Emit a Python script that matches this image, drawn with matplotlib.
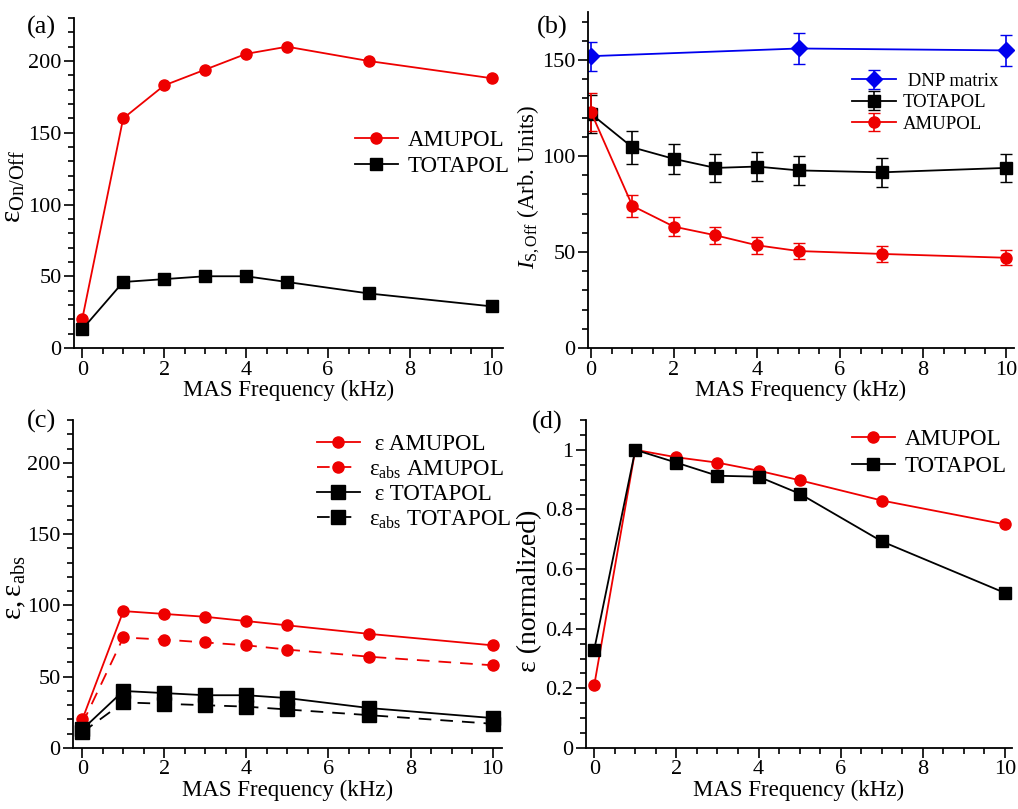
import numpy as np
import matplotlib
matplotlib.use("Agg")
import matplotlib.pyplot as plt
from matplotlib.ticker import MultipleLocator

plt.rcParams["font.family"] = ["Liberation Serif", "DejaVu Serif"]
plt.rcParams["mathtext.fontset"] = "custom"
plt.rcParams["mathtext.rm"] = "Liberation Serif"
plt.rcParams["mathtext.it"] = "Liberation Serif:italic"
plt.rcParams["font.size"] = 15

# (a) enhancement vs MAS frequency
freq = [0, 1, 2, 3, 4, 5, 7, 10]
eps_amupol = [20, 160, 183, 194, 205, 210, 200, 188]
eps_totapol = [13, 46, 48, 50, 50, 46, 38, 29]

# (b) signal intensity with microwaves off
freq_matrix = [0, 5, 10]
i_matrix = [152, 156, 155]
i_matrix_err = [7.6, 8, 8]
i_totapol = [122, 104.5, 98.5, 93.8, 94.5, 92.5, 91.5, 93.8]
i_totapol_err = [10, 8.5, 8, 7.5, 7.5, 7.5, 7.5, 7.5]
i_amupol = [123, 74, 63.2, 58.7, 53.5, 50.5, 49, 47]
i_amupol_err = [10, 5.8, 5, 4.5, 4.5, 4, 4, 4]

# (c) epsilon and absolute epsilon
epsc_amupol = [20, 96, 94, 92, 89, 86, 80, 72]
epsabs_amupol = [17, 77.5, 76, 74, 72, 69, 64, 58]
epsc_totapol = [13, 40, 38.5, 37, 37, 35, 28, 21]
epsabs_totapol = [11, 32, 31, 30, 29, 27, 23, 17]

# (d) normalized epsilon
norm_amupol = [0.21, 1.0, 0.975, 0.957, 0.93, 0.898, 0.83, 0.75]
norm_totapol = [0.33, 1.0, 0.957, 0.913, 0.91, 0.853, 0.693, 0.52]

red = "#ee0000"
blue = "#0000ee"

fig = plt.figure(figsize=(10.18, 8.09), dpi=100)
W, H = 1018, 809


def make_ax(l, r, t, b):
    return fig.add_axes([l / W, 1 - b / H, (r - l) / W, (b - t) / H])


def style(ax, xlim, ylim, ymaj, ymin):
    ax.set_xlim(*xlim)
    ax.set_ylim(*ylim)
    ax.spines["top"].set_visible(False)
    ax.spines["right"].set_visible(False)
    ax.xaxis.set_major_locator(MultipleLocator(2))
    ax.xaxis.set_minor_locator(MultipleLocator(0.5))
    ax.yaxis.set_major_locator(MultipleLocator(ymaj))
    ax.yaxis.set_minor_locator(MultipleLocator(ymin))
    ax.tick_params(which="major", direction="out", length=7, width=1.2, labelsize=16, pad=2)
    ax.tick_params(which="minor", direction="out", length=4, width=1.2)
    for s in ["left", "bottom"]:
        ax.spines[s].set_linewidth(1.3)
    ax.set_xlabel("MAS Frequency (kHz)", fontsize=16.5, labelpad=0)


leg_kw = dict(frameon=False, fontsize=16.5, labelspacing=0.22, handlelength=1.9,
              handletextpad=0.4, borderpad=0.1)

# (a)
ax1 = make_ax(74, 503, 18, 348)
ax1.plot(freq, eps_amupol, "-o", color=red, ms=8, lw=1.3, label="AMUPOL")
ax1.plot(freq, eps_totapol, "-s", color="black", ms=8.5, lw=1.3, label="TOTAPOL")
style(ax1, (-0.2, 10.27), (0, 230), 50, 10)
ax1.set_ylabel("$\\mathregular{ε_{On/Off}}$", fontsize=21)
ax1.yaxis.set_label_coords(-0.11, 0.49)
ax1.legend(loc="center right", bbox_to_anchor=(1.047, 0.59), **leg_kw)

# (b)
ax2 = make_ax(588, 1014, 12, 348)
ax2.errorbar(freq_matrix, i_matrix, yerr=i_matrix_err, fmt="-D", color=blue, ms=8,
             lw=1.3, capsize=4, elinewidth=1.2, label=" DNP matrix")
ax2.errorbar(freq, i_totapol, yerr=i_totapol_err, fmt="-s", color="black", ms=8.5,
             lw=1.3, capsize=4, elinewidth=1.2, label="TOTAPOL")
ax2.errorbar(freq, i_amupol, yerr=i_amupol_err, fmt="-o", color=red, ms=8,
             lw=1.3, capsize=4, elinewidth=1.2, label="AMUPOL")
style(ax2, (-0.07, 10.19), (0, 175), 50, 10)
ax2.set_ylabel("$\\mathit{I}_{\\mathrm{S,Off}}$ (Arb. Units)", fontsize=16.5)
ax2.yaxis.set_label_coords(-0.108, 0.48)
ax2.legend(loc="center right", bbox_to_anchor=(0.99, 0.73),
           **{**leg_kw, "fontsize": 13.5, "handlelength": 2.3, "labelspacing": 0.22})

# (c)
ax3 = make_ax(73, 502, 420, 748)
ax3.plot(freq, epsc_amupol, "-o", color=red, ms=8, lw=1.3, label=" ε AMUPOL")
ax3.plot(freq, epsabs_amupol, "--o", color=red, ms=8, lw=1.3, dashes=(7, 5),
         label="$\\mathregular{ε_{abs}}$ AMUPOL")
ax3.plot(freq, epsc_totapol, "-s", color="black", ms=9.5, lw=1.3, label=" ε TOTAPOL")
ax3.plot(freq, epsabs_totapol, "--s", color="black", ms=9.5, lw=1.3, dashes=(7, 5),
         label="$\\mathregular{ε_{abs}}$ TOTAPOL")
style(ax3, (-0.227, 10.23), (0, 230), 50, 10)
ax3.set_ylabel("$\\mathregular{ε, ε_{abs}}$", fontsize=21)
ax3.yaxis.set_label_coords(-0.105, 0.49)
ax3.legend(loc="center right", bbox_to_anchor=(1.054, 0.81), **{**leg_kw, "labelspacing": 0.15})

# (d)
ax4 = make_ax(586, 1012, 420, 748)
ax4.plot(freq, norm_amupol, "-o", color=red, ms=8, lw=1.3, label="AMUPOL")
ax4.plot(freq, norm_totapol, "-s", color="black", ms=8.5, lw=1.3, label="TOTAPOL")
style(ax4, (-0.2, 10.17), (0, 1.1), 0.2, 0.05)
ax4.yaxis.set_major_formatter(plt.FuncFormatter(lambda v, p: f"{v:g}"))
ax4.set_ylabel("ε (normalized)", fontsize=20)
ax4.yaxis.set_label_coords(-0.103, 0.48)
ax4.legend(loc="center right", bbox_to_anchor=(1.019, 0.90), **{**leg_kw, "labelspacing": 0.28})

for txt, x, y in [("(a)", 27, 27), ("(b)", 537, 27), ("(c)", 27, 421), ("(d)", 532, 422)]:
    fig.text(x / W, 1 - y / H, txt, fontsize=19, va="center", ha="left")

fig.savefig("out.png", dpi=100)
